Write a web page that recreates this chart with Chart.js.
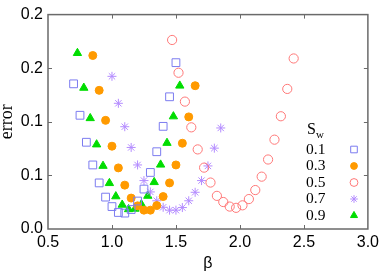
<!DOCTYPE html>
<html><head><meta charset="utf-8">
<script src="https://cdn.jsdelivr.net/npm/chart.js@4/dist/chart.umd.min.js"></script>
<style>html,body{margin:0;padding:0;background:#fff}#wrap{width:383px;height:275px}</style>
</head><body><div id="wrap"><canvas id="c" width="383" height="275"></canvas></div>
<script>
// ---- data ----
const seriesLabels = ['0.1', '0.3', '0.5', '0.7', '0.9'];
const legendTitle = 'S';
const legendTitleSub = 'w';
const xTitle = 'β';
const yTitle = 'error';
const yTickLabels = ['0.0', '0.1', '0.1', '0.2', '0.2'];

const beta01 = [0.70,0.75,0.80,0.85,0.90,0.95,1.00,1.05,1.10,1.15,1.20,1.25,1.30,1.35,1.40,1.45,1.50];
const err01  = [0.1625,0.1273,0.0971,0.0717,0.0516,0.0357,0.0251,0.0185,0.0178,0.0218,0.0313,0.0447,0.0633,0.0865,0.1149,0.1480,0.1862];

const beta03 = [0.85,0.90,0.95,1.00,1.05,1.10,1.15,1.20,1.25,1.30,1.35,1.40,1.45,1.50,1.55,1.60,1.65];
const err03  = [0.1942,0.1552,0.1216,0.0927,0.0684,0.0491,0.0346,0.0259,0.0211,0.0211,0.0262,0.0363,0.0516,0.0717,0.0960,0.1255,0.1604];

const beta05 = [1.47,1.52,1.57,1.62,1.67,1.72,1.77,1.82,1.87,1.92,1.97,2.02,2.07,2.12,2.17,2.22,2.27,2.32,2.37,2.42];
const err05  = [0.2116,0.1749,0.1426,0.1138,0.0891,0.0687,0.0520,0.0371,0.0302,0.0251,0.0237,0.0265,0.0335,0.0436,0.0586,0.0778,0.1000,0.1262,0.1568,0.1909];

const beta07 = [1.00,1.05,1.10,1.15,1.20,1.25,1.30,1.35,1.40,1.45,1.50,1.55,1.60,1.65,1.70,1.75,1.80,1.85];
const err07  = [0.1709,0.1407,0.1145,0.0913,0.0717,0.0542,0.0415,0.0316,0.0243,0.0211,0.0211,0.0240,0.0316,0.0411,0.0542,0.0706,0.0905,0.1131];

const beta09 = [0.73,0.78,0.83,0.88,0.93,0.98,1.03,1.08,1.13,1.18,1.23,1.28,1.33,1.38,1.43,1.48,1.53];
const err09  = [0.1969,0.1580,0.1240,0.0946,0.0706,0.0513,0.0365,0.0271,0.0221,0.0226,0.0276,0.0371,0.0524,0.0720,0.0963,0.1260,0.1604];

const pts = (xs, ys) => xs.map((x, i) => ({x: x, y: ys[i]}));

const styles = [
  {pointStyle:'rect', radius:5.5, bg:'rgba(0,0,0,0)', border:'#7c7cf0', bw:1},
  {pointStyle:'circle', radius:4, bg:'#ff9a00', border:'#ff9a00', bw:1},
  {pointStyle:'circle', radius:4.6, bg:'rgba(0,0,0,0)', border:'#ff7878', bw:1},
  {pointStyle:'star', radius:4.5, bg:'rgba(0,0,0,0)', border:'#b48cff', bw:1},
  {pointStyle:'triangle', radius:4.8, bg:'#00dd00', border:'#00dd00', bw:1}
];
const series = [pts(beta01, err01), pts(beta03, err03), pts(beta05, err05), pts(beta07, err07), pts(beta09, err09)];

const datasets = series.map((d, i) => ({
  label: seriesLabels[i],
  data: d,
  showLine: false,
  pointStyle: styles[i].pointStyle,
  pointRadius: styles[i].radius,
  pointHoverRadius: styles[i].radius,
  pointBackgroundColor: styles[i].bg,
  pointBorderColor: styles[i].border,
  pointBorderWidth: styles[i].bw,
  backgroundColor: styles[i].bg,
  borderColor: styles[i].border
}));

const frameColor = '#6a6a6a';
const framePlugin = {
  id: 'frame',
  afterDatasetsDraw(chart) {
    const ctx = chart.ctx, a = chart.chartArea;
    const xs = chart.scales.x, ys = chart.scales.y;
    ctx.save();
    ctx.strokeStyle = frameColor;
    ctx.lineWidth = 1.5;
    ctx.strokeRect(a.left, a.top, a.right - a.left, a.bottom - a.top);
    ctx.lineWidth = 1;
    const tl = 4;
    ctx.beginPath();
    xs.ticks.forEach(t => {
      const px = Math.round(xs.getPixelForValue(t.value)) + 0.5;
      if (px <= a.left + 2 || px >= a.right - 2) return;
      ctx.moveTo(px, a.bottom); ctx.lineTo(px, a.bottom - tl);
      ctx.moveTo(px, a.top); ctx.lineTo(px, a.top + tl);
    });
    ys.ticks.forEach(t => {
      const py = Math.round(ys.getPixelForValue(t.value)) + 0.5;
      if (py <= a.top + 2 || py >= a.bottom - 2) return;
      ctx.moveTo(a.left, py); ctx.lineTo(a.left + tl, py);
      ctx.moveTo(a.right, py); ctx.lineTo(a.right - tl, py);
    });
    ctx.stroke();

    // legend
    const lx = 306, sx = 354;
    const rows = [149.5, 166, 182.5, 199, 215.5];
    ctx.fillStyle = '#000';
    ctx.textBaseline = 'middle';
    ctx.textAlign = 'left';
    ctx.font = '16px "Liberation Serif", "Times New Roman", serif';
    ctx.fillText(legendTitle, 307, 130);
    ctx.font = '11px "Liberation Serif", "Times New Roman", serif';
    ctx.fillText(legendTitleSub, 316, 135);
    ctx.font = '15.5px "Liberation Serif", "Times New Roman", serif';
    datasets.forEach((ds, i) => {
      ctx.fillStyle = '#000';
      ctx.fillText(ds.label, lx, rows[i]);
      ctx.fillStyle = ds.pointBackgroundColor;
      ctx.strokeStyle = ds.pointBorderColor;
      ctx.lineWidth = ds.pointBorderWidth;
      Chart.helpers.drawPoint(ctx, {pointStyle: ds.pointStyle, radius: ds.pointRadius * 0.85, borderWidth: ds.pointBorderWidth}, sx, rows[i]);
    });
    ctx.restore();
  }
};

new Chart(document.getElementById('c'), {
  type: 'scatter',
  data: { datasets: datasets },
  options: {
    responsive: false,
    devicePixelRatio: 1,
    animation: false,
    layout: { padding: { left: 0, right: 14, top: 9, bottom: 0 } },
    plugins: { legend: { display: false }, tooltip: { enabled: false } },
    scales: {
      x: {
        type: 'linear', min: 0.5, max: 3.0,
        grid: { display: false, drawTicks: false },
        border: { display: false },
        ticks: { stepSize: 0.5, autoSkip: false, maxRotation: 0, padding: 4, color: '#000',
          font: { family: '"Liberation Sans", Arial, sans-serif', size: 16 },
          callback: v => v.toFixed(1) },
        title: { display: true, text: xTitle, color: '#000', padding: { top: 0, bottom: 2 },
          font: { family: '"Liberation Sans", Arial, sans-serif', size: 16, lineHeight: 1.2 } },
        afterFit: s => { s.height = 46; }
      },
      y: {
        type: 'linear', min: 0, max: 0.24,
        grid: { display: false, drawTicks: false },
        border: { display: false },
        ticks: { stepSize: 0.06, autoSkip: false, padding: 5, color: '#000',
          font: { family: '"Liberation Sans", Arial, sans-serif', size: 16 },
          callback: (v, i) => yTickLabels[i] },
        title: { display: true, text: yTitle, color: '#000', padding: { top: 0, bottom: 0 },
          font: { family: '"Liberation Serif", "Times New Roman", serif', size: 18, lineHeight: 0.84 } },
        afterFit: s => { s.width = 48; }
      }
    }
  },
  plugins: [framePlugin]
});
</script>
</body></html>
